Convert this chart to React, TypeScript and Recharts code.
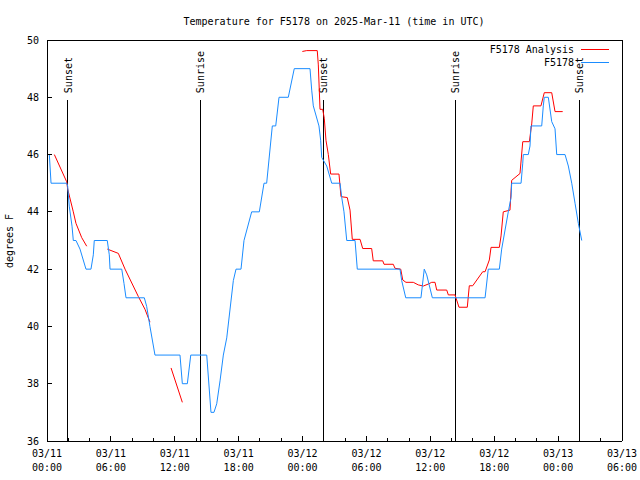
import React from 'react';
import { LineChart, Line, XAxis, YAxis, ReferenceLine, Legend } from 'recharts';

// time is hours after 03/11 00:00 UTC, temperature in degrees F
const observed: [number, number][] = [
  [0.22, 46.0], [0.38, 45.0], [1.85, 45.0], [1.94, 44.9], [2.09, 44.2], [2.35, 43.5],
  [2.47, 43.0], [2.72, 43.0], [3.1, 42.7], [3.66, 42.0], [4.13, 42.0], [4.35, 42.5],
  [4.44, 43.0], [5.66, 43.0], [5.85, 42.5], [5.92, 42.0], [7.02, 42.0], [7.23, 41.5],
  [7.42, 41.0], [9.14, 41.0], [9.36, 40.7], [9.67, 40.0], [10.14, 39.0], [12.49, 39.0],
  [12.71, 38.0], [13.18, 38.0], [13.5, 39.0], [15.0, 39.0], [15.4, 37.0], [15.68, 37.0],
  [15.94, 37.3], [16.25, 38.1], [16.56, 39.0], [16.88, 39.6], [17.5, 41.6], [17.75, 42.0],
  [18.22, 42.0], [18.5, 43.0], [19.22, 44.0], [19.94, 44.0], [20.38, 45.0], [20.63, 45.0],
  [21.16, 47.0], [21.48, 47.0], [21.79, 48.0], [22.66, 48.0], [23.22, 49.0], [24.7, 49.0],
  [24.86, 48.25], [25.01, 47.7], [25.54, 47.0], [25.7, 46.5], [25.8, 45.9], [26.27, 45.6],
  [26.74, 45.0], [27.52, 45.0], [27.68, 44.5], [27.89, 44.0], [28.15, 43.0], [28.93, 43.0],
  [29.14, 42.0], [33.15, 42.0], [33.31, 41.6], [33.69, 41.0], [35.12, 41.0], [35.43, 42.0],
  [35.66, 41.8], [36.19, 41.0], [41.14, 41.0], [41.44, 42.0], [42.48, 42.0], [42.7, 42.7],
  [43.32, 44.0], [43.58, 44.5], [43.64, 45.0], [44.52, 45.0], [44.68, 45.7], [44.73, 46.0],
  [45.2, 46.0], [45.36, 46.3], [45.45, 47.0], [46.46, 47.0], [46.61, 47.7], [46.7, 48.0],
  [47.08, 48.0], [47.4, 47.15], [47.71, 46.9], [47.87, 46.0], [48.65, 46.0], [48.96, 45.6],
  [49.28, 45.0], [49.59, 44.3], [49.9, 43.6], [50.22, 43.0],
];

// null = gap in the analysis
const analysis: [number, number | null][] = [
  [0.69, 46.0], [1.85, 45.05], [1.94, 44.8], [2.47, 44.0], [2.72, 43.6], [3.26, 43.1],
  [3.73, 42.8], [4.7, null],
  [5.66, 42.7], [6.7, 42.55], [7.33, 42.0], [8.57, 41.05], [9.2, 40.6], [9.67, 40.15],
  [10.6, null],
  [11.65, 38.55], [12.71, 37.35], [18.0, null],
  [23.98, 49.6], [24.39, 49.63], [25.38, 49.63], [25.48, 49.13], [25.64, 47.58], [25.89, 47.58],
  [26.04, 47.27], [26.2, 46.5], [26.42, 46.0], [26.64, 45.32], [27.42, 45.32], [27.61, 44.53],
  [28.2, 44.5], [28.46, 44.06], [28.67, 43.04], [29.4, 43.04], [29.65, 42.72], [30.49, 42.72],
  [30.64, 42.29], [31.53, 42.29], [31.65, 42.17], [32.52, 42.17], [32.68, 42.03], [33.22, 42.0],
  [33.41, 41.62], [33.71, 41.54], [34.4, 41.54], [34.87, 41.45], [35.34, 41.41], [35.81, 41.48],
  [36.13, 41.54], [36.44, 41.54], [36.6, 41.27], [37.54, 41.27], [37.69, 41.1], [38.32, 41.1],
  [38.69, 40.67], [39.47, 40.67], [39.66, 41.42], [39.98, 41.42], [40.92, 41.91], [41.14, 41.91],
  [41.54, 42.32], [41.7, 42.76], [42.48, 42.76], [42.64, 43.16], [42.85, 44.0], [43.48, 44.06],
  [43.64, 45.1], [44.42, 45.34], [44.68, 46.45], [45.3, 46.45], [45.52, 47.07], [45.67, 47.7],
  [46.39, 47.7], [46.7, 48.16], [47.4, 48.16], [47.71, 47.5], [48.43, 47.5],
];

const sunsets = [1.94, 25.95, 49.99];
const sunrises = [14.4, 38.35];

const legendOrder = ['F5178 Analysis', 'F5178'];

const xTicks = [0, 2, 4, 6, 8, 10, 12, 14, 16, 18, 20, 22, 24, 26, 28, 30, 32, 34, 36, 38, 40, 42, 44, 46, 48, 50, 52, 54];
const xMajor = [0, 6, 12, 18, 24, 30, 36, 42, 48, 54];
const xDates = ['03/11', '03/11', '03/11', '03/11', '03/12', '03/12', '03/12', '03/12', '03/13', '03/13'];
const xTimes = ['00:00', '06:00', '12:00', '18:00', '00:00', '06:00', '12:00', '18:00', '00:00', '06:00'];
const yTicks = [36, 38, 40, 42, 44, 46, 48, 50];

const obsData = observed.map(([h, t]) => ({ h, t }));
const anaData = analysis.map(([h, t]) => ({ h, t }));

const font = { fontFamily: 'DejaVu Sans Mono', fontSize: 10, fill: '#000' };

const BottomTick = ({ x, y, payload }: any) => {
  const i = xMajor.indexOf(payload.value);
  if (i < 0) return <line x1={x} x2={x} y1={y} y2={y - 3} stroke="#000" shapeRendering="crispEdges" />;
  return (
    <g>
      <line x1={x} x2={x} y1={y} y2={y - 5} stroke="#000" shapeRendering="crispEdges" />
      <text x={x} y={y + 16} textAnchor="middle" {...font}>{xDates[i]}</text>
      <text x={x} y={y + 30} textAnchor="middle" {...font}>{xTimes[i]}</text>
    </g>
  );
};

const TopTick = ({ x, y, payload }: any) => {
  const len = xMajor.includes(payload.value) ? 5 : 3;
  return <line x1={x} x2={x} y1={y} y2={y + len} stroke="#000" shapeRendering="crispEdges" />;
};

const LeftTick = ({ x, y, payload }: any) => (
  <g>
    <line x1={x} x2={x + 5} y1={y} y2={y} stroke="#000" shapeRendering="crispEdges" />
    <text x={x - 8} y={y + 3.5} textAnchor="end" {...font}>{payload.value}</text>
  </g>
);

const RightTick = ({ x, y }: any) => (
  <line x1={x} x2={x - 5} y1={y} y2={y} stroke="#000" shapeRendering="crispEdges" />
);

const SunMarker = ({ x1, y1, x2, y2, text }: any) => {
  const top = Math.min(y1, y2);
  const tx = x1 + 4;
  const ty = top - 7;
  return (
    <g>
      <line x1={x1} y1={y1} x2={x2} y2={y2} stroke="#000" shapeRendering="crispEdges" />
      <text x={tx} y={ty} transform={`rotate(-90 ${tx} ${ty})`} textAnchor="start" {...font}>{text}</text>
    </g>
  );
};

const LegendBox = ({ payload }: any) => {
  const items = [...(payload || [])].sort(
    (a: any, b: any) => legendOrder.indexOf(a.value) - legendOrder.indexOf(b.value),
  );
  return (
    <svg width={140} height={30} style={{ display: 'block' }}>
      {items.map((p: any, i: number) => (
        <g key={p.value}>
          <text x={94} y={13 + 13 * i} textAnchor="end" {...font}>{p.value}</text>
          <line x1={101} x2={129} y1={9.5 + 13 * i} y2={9.5 + 13 * i} stroke={p.color} />
        </g>
      ))}
    </svg>
  );
};

export default function App() {
  return (
    <div style={{ position: 'absolute', left: 0, top: 0, background: '#fff' }}>
      <LineChart width={640} height={480} margin={{ top: 39, right: 17, bottom: 0, left: 0 }}>
        <XAxis
          xAxisId="b" dataKey="h" type="number" domain={[0, 54]} ticks={xTicks} interval={0}
          tickSize={0} tickMargin={0} tickLine={false} tick={<BottomTick />} height={39}
          axisLine={{ stroke: '#000', shapeRendering: 'crispEdges' }}
        />
        <XAxis
          xAxisId="t" orientation="top" dataKey="h" type="number" domain={[0, 54]} ticks={xTicks}
          interval={0} tickSize={0} tickMargin={0} tickLine={false} tick={<TopTick />} height={1}
          axisLine={{ stroke: '#000', shapeRendering: 'crispEdges' }}
          label={() => (
            <text x={334} y={25} textAnchor="middle" {...font}>
              Temperature for F5178 on 2025-Mar-11 (time in UTC)
            </text>
          )}
        />
        <YAxis
          yAxisId="l" type="number" domain={[36, 50]} ticks={yTicks} interval={0} width={47}
          tickSize={0} tickMargin={0} tickLine={false} tick={<LeftTick />}
          axisLine={{ stroke: '#000', shapeRendering: 'crispEdges' }}
          label={() => (
            <text x={13} y={241} transform="rotate(-90 13 241)" textAnchor="middle" {...font}>
              degrees F
            </text>
          )}
        />
        <YAxis
          yAxisId="r" orientation="right" type="number" domain={[36, 50]} ticks={yTicks} interval={0}
          width={1} tickSize={0} tickMargin={0} tickLine={false} tick={<RightTick />}
          axisLine={{ stroke: '#000', shapeRendering: 'crispEdges' }}
        />
        {sunsets.map((s) => (
          <ReferenceLine
            key={'ss' + s} xAxisId="b" yAxisId="l" segment={[{ x: s, y: 36 }, { x: s, y: 47.9 }]}
            shape={(p: any) => <SunMarker {...p} text="Sunset" />}
          />
        ))}
        {sunrises.map((s) => (
          <ReferenceLine
            key={'sr' + s} xAxisId="b" yAxisId="l" segment={[{ x: s, y: 36 }, { x: s, y: 47.9 }]}
            shape={(p: any) => <SunMarker {...p} text="Sunrise" />}
          />
        ))}
        <Line
          xAxisId="b" yAxisId="l" data={anaData} dataKey="t" name="F5178 Analysis" type="linear"
          stroke="#ff0000" strokeWidth={1} dot={false} activeDot={false} connectNulls={false}
          isAnimationActive={false}
        />
        <Line
          xAxisId="b" yAxisId="l" data={obsData} dataKey="t" name="F5178" type="linear"
          stroke="#1a8cff" strokeWidth={1} dot={false} activeDot={false}
          isAnimationActive={false}
        />
        <Legend
          layout="vertical" align="center" verticalAlign="middle"
          wrapperStyle={{ position: 'absolute', top: 40, left: 480, width: 140, height: 30 }}
          content={(props: any) => <LegendBox payload={props.payload} />}
        />
      </LineChart>
    </div>
  );
}
